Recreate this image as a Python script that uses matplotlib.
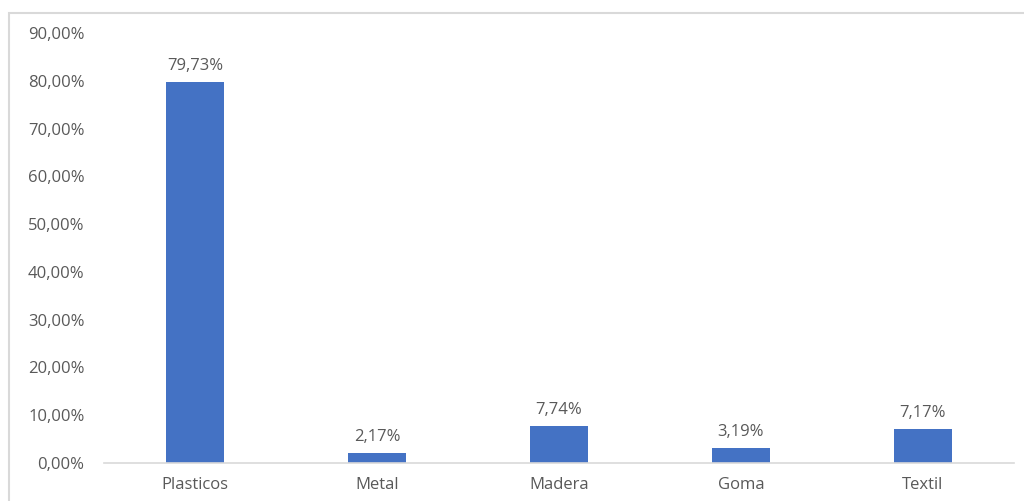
import matplotlib.pyplot as plt
from matplotlib.patches import Rectangle

categories = ['Plasticos', 'Metal', 'Madera', 'Goma', 'Textil']
values = [79.73, 2.17, 7.74, 3.19, 7.17]
yticks = [0, 10, 20, 30, 40, 50, 60, 70, 80, 90]

plt.rcParams['font.family'] = ['Open Sans', 'DejaVu Sans']
text_color = '#595959'
bar_color = '#4472c4'


def pct(v):
  return f'{v:.2f}%'.replace('.', ',')


fig = plt.figure(figsize=(10.24, 5.01), dpi=100)
ax = fig.add_axes([104 / 1024, 1 - 463 / 501, 910 / 1024, 430 / 501])

x = list(range(len(categories)))
bars = ax.bar(x, values, width=0.32, color=bar_color)

for b, v in zip(bars, values):
  ax.text(b.get_x() + b.get_width() / 2, v + 1.6, pct(v),
          ha='center', va='bottom', fontsize=12, color=text_color)

ax.set_xlim(-0.5, len(categories) - 0.5)
ax.set_ylim(0, 90)
ax.set_yticks(yticks)
ax.set_yticklabels([pct(t) for t in yticks], fontsize=12, color=text_color)
ax.set_xticks(x)
ax.set_xticklabels(categories, fontsize=12, color=text_color)
ax.tick_params(axis='both', length=0)
ax.tick_params(axis='y', pad=14)
ax.tick_params(axis='x', pad=10)

for side in ['top', 'right', 'left']:
  ax.spines[side].set_visible(False)
ax.spines['bottom'].set_color('#d9d9d9')
ax.spines['bottom'].set_linewidth(1.2)

# outer chart border, cut off at the right and bottom edges
fig.patches.append(Rectangle((9 / 1024, -0.1), 1.2, 1 - 13 / 501 + 0.1,
                             transform=fig.transFigure, fill=False,
                             edgecolor='#d9d9d9', linewidth=1.5))

fig.savefig('out.png', dpi=100)
